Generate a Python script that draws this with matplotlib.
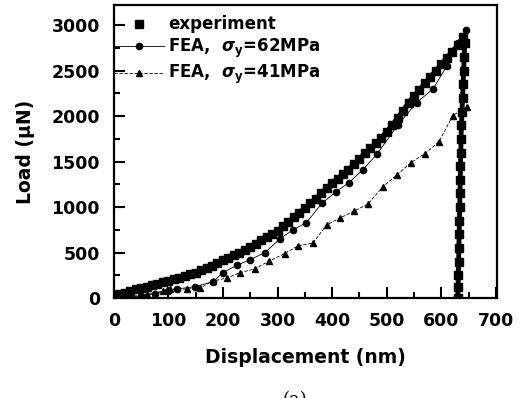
import matplotlib
matplotlib.use('Agg')
import matplotlib.pyplot as plt
from matplotlib.ticker import MultipleLocator

plt.rcParams['font.family'] = ['DejaVu Sans']
plt.rcParams['font.weight'] = 'bold'
plt.rcParams['mathtext.fontset'] = 'dejavusans'

# experiment: loading then unloading
exp_x = [0, 10, 20, 30, 40, 50, 60, 70, 80, 90, 100, 110, 120, 130, 140, 150,
         160, 170, 180, 190, 200, 210, 220, 230, 240, 250, 260, 270, 280, 290,
         300, 310, 320, 330, 340, 350, 360, 370, 380, 390, 400, 410, 420, 430,
         440, 450, 460, 470, 480, 490, 500, 510, 520, 530, 540, 550, 560, 570,
         580, 590, 600, 610, 620, 630, 640,
         643, 642, 641, 640, 639, 638, 637, 636, 636, 635, 635, 634, 634, 633,
         633, 632, 632, 631, 631, 630]
exp_y = [0, 40, 60, 80, 100, 115, 125, 140, 160, 175, 190, 205, 220, 240, 260, 280,
         305, 330, 355, 385, 420, 445, 475, 500, 530, 560, 600, 640, 670, 700,
         740, 790, 840, 890, 940, 990, 1040, 1090, 1150, 1210, 1260, 1310, 1360, 1410,
         1470, 1530, 1590, 1650, 1700, 1760, 1830, 1900, 1980, 2060, 2150, 2220, 2290, 2360,
         2430, 2500, 2570, 2640, 2710, 2780, 2870,
         2800, 2650, 2500, 2350, 2200, 2050, 1900, 1750, 1600, 1450, 1300, 1150, 1000, 850,
         700, 550, 400, 250, 120, 0]

# FEA, sigma_y = 62 MPa
fea62_x = [0, 25, 50, 75, 100, 115, 148, 182, 200, 225, 249, 277, 304, 328, 353,
           381, 407, 431, 456, 482, 520, 555, 585, 610, 630, 645]
fea62_y = [0, 10, 25, 50, 75, 100, 125, 180, 280, 360, 420, 500, 650, 750, 830,
           1040, 1170, 1270, 1410, 1580, 1900, 2150, 2300, 2550, 2800, 2950]

# FEA, sigma_y = 41 MPa
fea41_x = [0, 30, 60, 90, 103, 134, 158, 181, 207, 231, 258, 284, 313, 337, 365,
           390, 415, 441, 466, 493, 519, 544, 570, 596, 621, 647]
fea41_y = [0, 15, 40, 77, 99, 99, 110, 187, 220, 280, 320, 405, 490, 573, 606,
           805, 882, 959, 1036, 1224, 1356, 1488, 1588, 1720, 2007, 2100]

fig = plt.figure(figsize=(5.22, 3.98), dpi=100)
ax = fig.add_axes([0.218, 0.251, 0.734, 0.736])

ax.plot(exp_x, exp_y, '-', color='black', linewidth=3.5, label='_nolegend_')
ax.plot(exp_x, exp_y, 's', color='black', markersize=5.5, label='experiment')
ax.plot(fea62_x, fea62_y, '-', marker='o', color='black', markersize=4.5,
        linewidth=0.6, label=r'FEA,  $\sigma_\mathbf{y}$=62MPa')
ax.plot(fea41_x, fea41_y, '--', marker='^', color='black', markersize=5,
        linewidth=0.6, dashes=(4, 2), label=r'FEA,  $\sigma_\mathbf{y}$=41MPa')

ax.set_xlim(0, 702)
ax.set_ylim(0, 3220)
ax.xaxis.set_major_locator(MultipleLocator(100))
ax.xaxis.set_minor_locator(MultipleLocator(50))
ax.yaxis.set_major_locator(MultipleLocator(500))
ax.yaxis.set_minor_locator(MultipleLocator(250))
ax.tick_params(which='major', direction='in', length=8, width=1.5, labelsize=12.5)
ax.tick_params(axis='x', which='major', pad=10)
ax.tick_params(axis='y', which='major', pad=10)
ax.tick_params(which='minor', direction='in', length=4, width=1.5)
for s in ax.spines.values():
    s.set_linewidth(1.6)

ax.set_xlabel('Displacement (nm)', fontsize=13.5, fontweight='bold', labelpad=13)
ax.set_ylabel('Load (\u03bcN)', fontsize=13.5, fontweight='bold', labelpad=12)

ax.legend(loc='upper left', bbox_to_anchor=(0.0, 0.965), frameon=False,
          handlelength=3.0, handletextpad=0.25, borderaxespad=0.0, borderpad=0.0,
          labelspacing=0.2, prop={'weight': 'bold', 'size': 12})

fig.text(0.565, 0.018, '(a)', ha='center', va='top', fontsize=13,
         fontweight='normal', family='DejaVu Serif')

fig.savefig('out.png', dpi=100)
